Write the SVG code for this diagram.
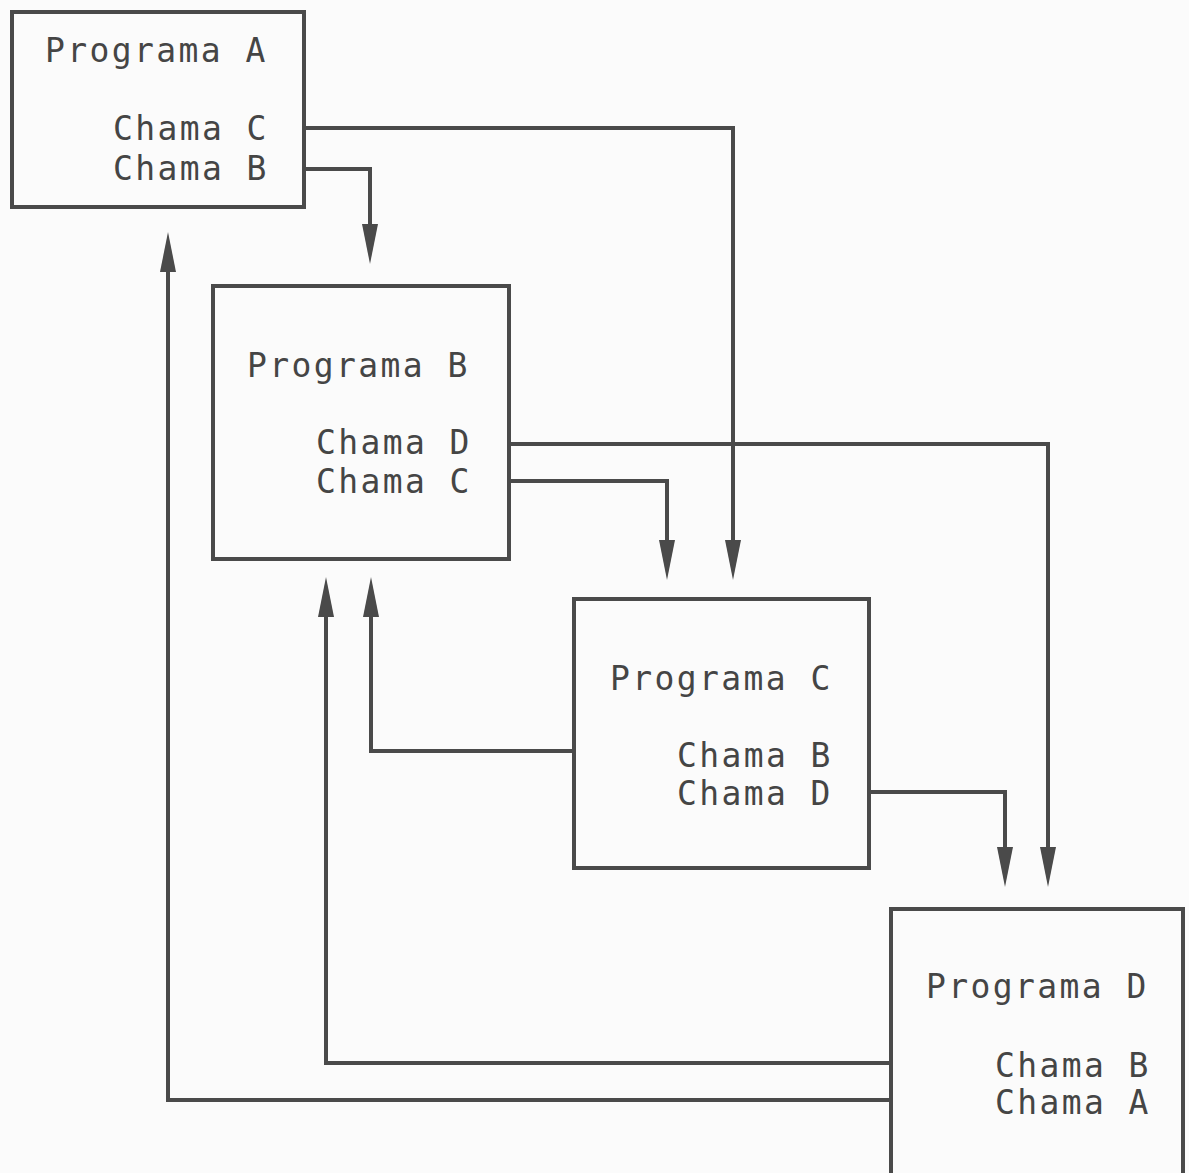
<svg xmlns="http://www.w3.org/2000/svg" width="1189" height="1173" viewBox="0 0 1189 1173">
<style>
.box{fill:none;stroke:#4a4a4a;stroke-width:4}
.lbl{font-family:"DejaVu Sans Mono","Liberation Mono",monospace;font-size:33px;fill:#454545;letter-spacing:2.4px}
.con{fill:none;stroke:#4a4a4a;stroke-width:4;marker-end:url(#arr)}
</style>
<defs>
<marker id="arr" markerUnits="userSpaceOnUse" markerWidth="40" markerHeight="16" refX="8" refY="8" orient="auto" overflow="visible">
<path d="M0,0 L40,8 L0,16 Z" fill="#4a4a4a"/>
</marker>
</defs>
<rect width="1189" height="1173" fill="#fbfbfb"/>
<g id="connectors">
<path class="con" d="M304,128 H733 V548"/>
<path class="con" d="M304,169 H370 V232"/>
<path class="con" d="M509,444 H1048 V855"/>
<path class="con" d="M509,481 H667 V548"/>
<path class="con" d="M574,751 H371 V609"/>
<path class="con" d="M869,792 H1005 V855"/>
<path class="con" d="M891,1063 H326 V609"/>
<path class="con" d="M891,1100 H168 V264"/>
</g>
<g id="programa-a">
<rect class="box" x="12" y="12" width="292" height="195"/>
<text class="lbl" x="45" y="62">Programa A</text>
<text class="lbl" x="113" y="140">Chama C</text>
<text class="lbl" x="113" y="180">Chama B</text>
</g>
<g id="programa-b">
<rect class="box" x="213" y="286" width="296" height="273"/>
<text class="lbl" x="247" y="377">Programa B</text>
<text class="lbl" x="316" y="454">Chama D</text>
<text class="lbl" x="316" y="493">Chama C</text>
</g>
<g id="programa-c">
<rect class="box" x="574" y="599" width="295" height="269"/>
<text class="lbl" x="610" y="690">Programa C</text>
<text class="lbl" x="677" y="767">Chama B</text>
<text class="lbl" x="677" y="805">Chama D</text>
</g>
<g id="programa-d">
<rect class="box" x="891" y="909" width="292" height="280"/>
<text class="lbl" x="926" y="998">Programa D</text>
<text class="lbl" x="995" y="1077">Chama B</text>
<text class="lbl" x="995" y="1114">Chama A</text>
</g>
</svg>
